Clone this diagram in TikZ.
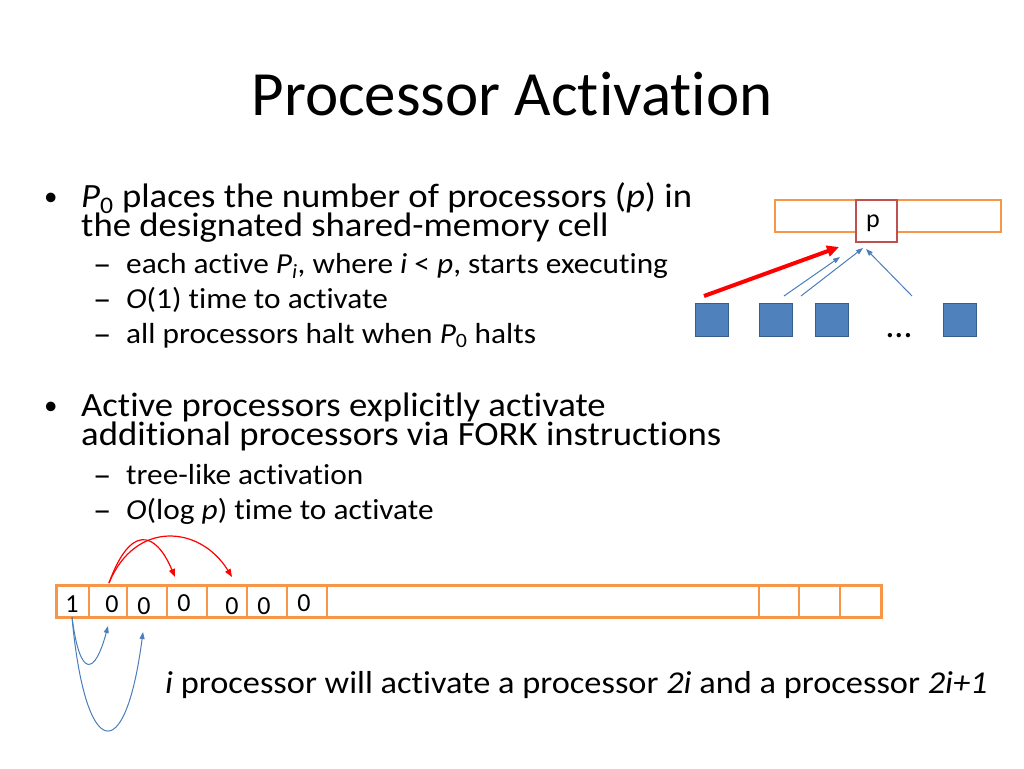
\documentclass[tikz,border=0pt]{standalone}
\usepackage{fontspec}
\setmainfont{Carlito}[Ligatures=NoCommon]
\newfontfamily\slidefont{Carlito}[FakeStretch=1.08, Ligatures=NoCommon]
\usetikzlibrary{arrows.meta}

\definecolor{cellorange}{HTML}{F79646}
\definecolor{cellred}{HTML}{C0504D}
\definecolor{procblue}{HTML}{4F81BD}
\definecolor{procedge}{HTML}{385D8A}
\definecolor{linkblue}{HTML}{4A7EBB}

\tikzset{
  bodytext/.style={anchor=base west, inner sep=0pt, font=\slidefont\fontsize{34}{34}\selectfont},
  firstline/.style={bodytext, text depth=0pt},
  subtext/.style={anchor=base west, inner sep=0pt, font=\slidefont\fontsize{29}{29}\selectfont},
  subdash/.style={anchor=base west, inner sep=0pt, font=\slidefont\fontsize{34}{34}\selectfont},
  bulletmark/.style={anchor=base west, inner sep=0pt, font=\fontsize{27}{27}\selectfont},
  digit/.style={anchor=base, inner sep=0pt, font=\fontsize{26}{26}\selectfont},
  proc/.style={draw=procedge, fill=procblue, line width=1.5pt, minimum size=33pt, inner sep=0pt},
  memstrip/.style={draw=cellorange, line width=2.5pt, inner sep=0pt},
  bluelink/.style={draw=linkblue, line width=1pt, -{Triangle[length=7pt,width=5pt]}},
  redlink/.style={draw=red, line width=1.2pt, -{Triangle[length=8pt,width=6pt]}},
}

\begin{document}
\begin{tikzpicture}[x=1pt,y=-1pt]
  \useasboundingbox (0,0) rectangle (1024,768);

  \node[anchor=base, inner sep=0pt, font=\fontsize{63}{63}\selectfont] (title) at (512,115) {Processor Activation};

  \node[bulletmark] (b1) at (44,205) {•};
  \node[firstline] (b1a) at (81,207) {\textit{P}\textsubscript{0} places the number of processors (\textit{p}) in};
  \node[bodytext] (b1b) at (81,236) {the designated shared-memory cell};
  \node[subdash] (s1d) at (93,275) {–};
  \node[subtext] (s1) at (126,273) {each active \textit{P\textsubscript{i}}, where \textit{i} < \textit{p}, starts executing};
  \node[subdash] (s2d) at (93,310) {–};
  \node[subtext] (s2) at (126,308) {\textit{O}(1) time to activate};
  \node[subdash] (s3d) at (93,345) {–};
  \node[subtext] (s3) at (126,343) {all processors halt when \textit{P}\textsubscript{0} halts};

  \node[bulletmark] (b2) at (44,414) {•};
  \node[firstline] (b2a) at (81,416) {Active processors explicitly activate};
  \node[bodytext] (b2b) at (81,445) {additional processors via FORK instructions};
  \node[subdash] (s4d) at (93,486) {–};
  \node[subtext] (s4) at (126,484) {tree-like activation};
  \node[subdash] (s5d) at (93,521) {–};
  \node[subtext] (s5) at (126,519) {\textit{O}(log \textit{p}) time to activate};

  % shared cell and processors
  \node[memstrip, minimum width=226pt, minimum height=32pt] (shared) at (888,216) {};
  \node[draw=cellred, fill=white, line width=2.5pt, minimum width=41pt, minimum height=42pt] (pcell) at (876.5,221) {};
  \node[digit] (pval) at (873,227) {p};
  \foreach \n/\x in {1/712,2/776,3/832,4/960}
    \node[proc] (proc\n) at (\x,320) {};
  \node[anchor=base, inner sep=0pt, font=\fontsize{36}{36}\selectfont] (dots) at (899,337) {\ldots};

  \path (704,296) coordinate (r0) (839,247) coordinate (r1)
        (784,296) coordinate (u1) (840,257) coordinate (t1)
        (801,296) coordinate (u2) (863,248) coordinate (t2)
        (912,296) coordinate (u3) (866,249) coordinate (t3);
  \draw[red, line width=4pt, -{Triangle[length=12pt,width=11pt]}] (r0) -- (r1);
  \draw[bluelink] (u1) -- (t1);
  \draw[bluelink] (u2) -- (t2);
  \draw[bluelink] (u3) -- (t3);

  % memory array
  \node[memstrip, minimum width=825pt, minimum height=32pt, anchor=north west] (array) at (55,584) {};
  \foreach \x in {89,127,167,207,247,287,327,759,799,840}
    \draw[cellorange, line width=2.5pt] (\x,584) -- (\x,616);
  \foreach \n/\x/\y/\v in {1/72/612/1,2/112/612/0,3/144/614/0,4/184/611/0,5/232/614/0,6/264/614/0,7/304/611/0}
    \node[digit] (d\n) at (\x,\y) {\v};

  \path (109,583) coordinate (fork) (175,577) coordinate (c2) (232,577) coordinate (c3)
        (72,617) coordinate (low) (108,626) coordinate (c1) (143,632) coordinate (c4);
  \draw[redlink] (fork) .. controls (130,525) and (155,530) .. (c2);
  \draw[redlink] (fork) .. controls (135,520) and (200,525) .. (c3);
  \draw[bluelink] (low) .. controls (80,680) and (95,675) .. (c1);
  \draw[bluelink] (low) .. controls (85,760) and (125,770) .. (c4);

  \node[anchor=base west, inner sep=0pt, font=\slidefont\fontsize{31.8}{31.8}\selectfont] (rule) at (165,693)
    {\textit{i} processor will activate a processor \textit{2i} and a processor \textit{2i+1}};
\end{tikzpicture}
\end{document}
